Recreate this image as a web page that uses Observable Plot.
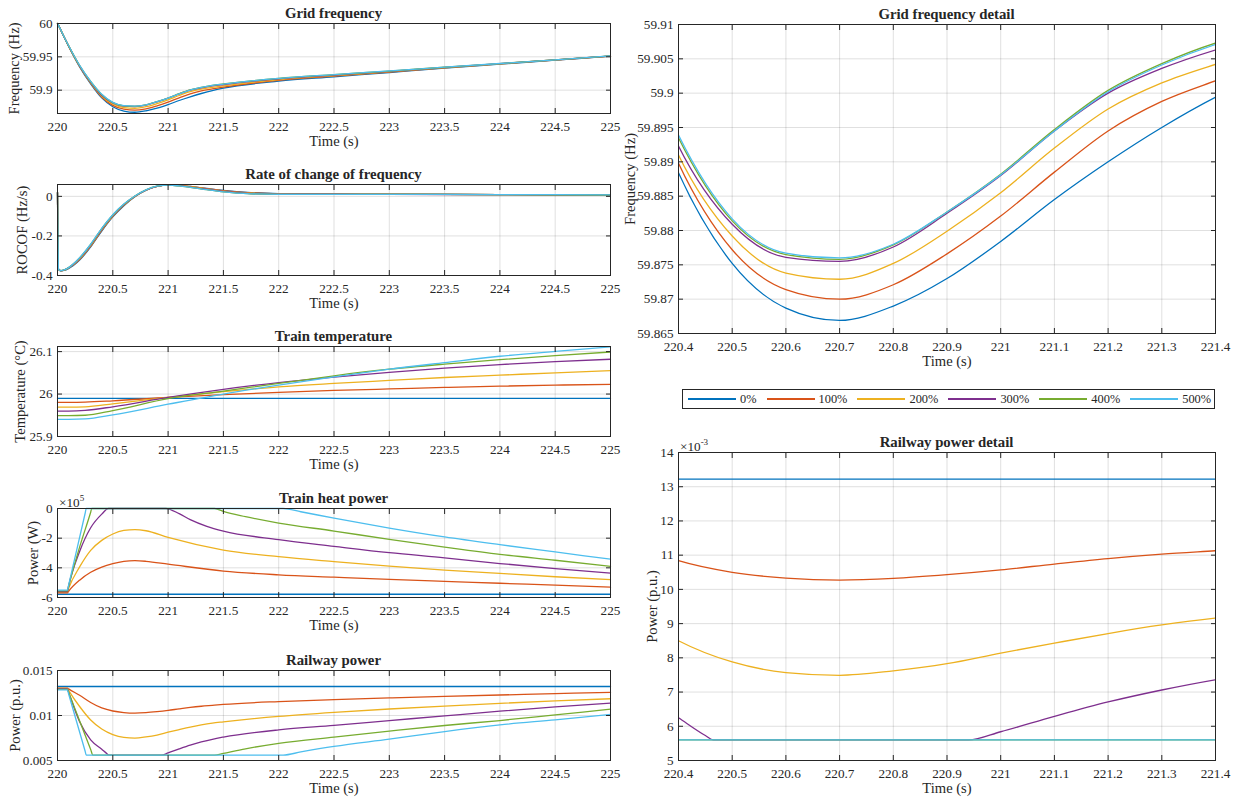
<!DOCTYPE html>
<html>
<head>
<meta charset="utf-8">
<script src="https://cdn.jsdelivr.net/npm/d3@7"></script>
<script src="https://cdn.jsdelivr.net/npm/@observablehq/plot@0.6"></script>
<style>
  html, body { margin: 0; padding: 0; background: #fff; }
  #root { position: relative; width: 1243px; height: 798px; overflow: hidden;
          font-family: "Liberation Serif", "Times New Roman", serif; color: #262626; }
  .title { position: absolute; font-weight: bold; font-size: 14.8px; line-height: 1;
           white-space: nowrap; transform: translate(-50%, -50%); }
  .expo { position: absolute; font-size: 13.2px; line-height: 1; white-space: nowrap; }
  .expo sup { font-size: 9px; vertical-align: 6px; }
  .legend { position: absolute; box-sizing: border-box; border: 1px solid #262626; background: #fff;
            display: flex; align-items: center; gap: 10px; padding-left: 5px; font-size: 12.4px; }
  .legend .item { display: flex; align-items: center; white-space: nowrap; }
  .legend .swatch { display: inline-block; width: 48px; height: 1.6px; margin-right: 4px; }
</style>
</head>
<body>
<div id="root"></div>
<script>
// ---------------- series ----------------
const seriesLabels = ["0%", "100%", "200%", "300%", "400%", "500%"];
const seriesColors = ["#0072BD", "#D95319", "#EDB120", "#7E2F8E", "#77AC30", "#4DBEEE"];

// ---------------- grid frequency (Hz) ----------------
const freqTime = [220, 220.02, 220.05, 220.1, 220.2, 220.3, 220.4, 220.5, 220.6, 220.7, 220.8, 220.9, 221.0, 221.1, 221.2, 221.3, 221.4, 221.5, 222, 222.5, 223, 223.5, 224, 224.5, 225];
const freq0 = [60.0, 59.9935, 59.983, 59.966, 59.935, 59.9095, 59.8884, 59.8752, 59.8687, 59.8669, 59.8690, 59.8730, 59.8784, 59.8845, 59.8900, 59.8950, 59.8994, 59.9030, 59.9135, 59.9200, 59.9265, 59.9330, 59.9390, 59.9450, 59.9510];
const freq100 = [60.0, 59.9935, 59.983, 59.9662, 59.9355, 59.9105, 59.8898, 59.8772, 59.8714, 59.8700, 59.8721, 59.8766, 59.8821, 59.8885, 59.8945, 59.8988, 59.9018, 59.9045, 59.9148, 59.9210, 59.9272, 59.9335, 59.9393, 59.9452, 59.9511];
const freq200 = [60.0, 59.9935, 59.9831, 59.9664, 59.936, 59.9113, 59.8910, 59.8792, 59.8738, 59.8729, 59.8752, 59.8799, 59.8855, 59.8920, 59.8977, 59.9015, 59.9042, 59.9065, 59.9160, 59.9220, 59.9278, 59.9339, 59.9396, 59.9453, 59.9512];
const freq300 = [60.0, 59.9935, 59.9831, 59.9666, 59.9365, 59.9122, 59.8923, 59.8809, 59.8761, 59.8755, 59.8776, 59.8825, 59.8880, 59.8945, 59.9000, 59.9036, 59.9063, 59.9084, 59.9170, 59.9227, 59.9283, 59.9342, 59.9398, 59.9454, 59.9512];
const freq400 = [60.0, 59.9935, 59.9832, 59.9668, 59.937, 59.913, 59.8935, 59.8814, 59.8765, 59.8758, 59.8779, 59.8827, 59.8882, 59.8947, 59.9004, 59.9043, 59.9073, 59.9093, 59.9177, 59.9233, 59.9287, 59.9344, 59.9399, 59.9455, 59.9513];
const freq500 = [60.0, 59.9935, 59.9832, 59.9669, 59.9372, 59.9133, 59.8939, 59.8817, 59.8767, 59.8760, 59.8780, 59.8827, 59.8881, 59.8945, 59.9002, 59.9041, 59.9071, 59.9092, 59.9177, 59.9234, 59.9289, 59.9345, 59.9400, 59.9455, 59.9513];

// ---------------- ROCOF (Hz/s) ----------------
const rocofTime = [220, 220.01, 220.03, 220.06, 220.1, 220.2, 220.3, 220.4, 220.5, 220.6, 220.7, 220.8, 220.9, 221.0, 221.1, 221.2, 221.35, 221.5, 221.75, 222, 222.5, 223, 224, 225];
const rocof0 = [0.02, -0.37, -0.376, -0.374, -0.365, -0.322, -0.255, -0.175, -0.104, -0.047, -0.002, 0.031, 0.05, 0.057, 0.056, 0.05, 0.04, 0.03, 0.019, 0.014, 0.012, 0.011, 0.009, 0.007];
const rocof100 = [0.02, -0.37, -0.376, -0.373, -0.363, -0.319, -0.252, -0.172, -0.101, -0.045, -0.001, 0.031, 0.05, 0.057, 0.056, 0.05, 0.039, 0.029, 0.018, 0.013, 0.012, 0.011, 0.009, 0.007];
const rocof200 = [0.02, -0.37, -0.376, -0.373, -0.362, -0.316, -0.248, -0.168, -0.098, -0.043, 0.0, 0.031, 0.05, 0.057, 0.055, 0.049, 0.038, 0.027, 0.016, 0.012, 0.011, 0.011, 0.009, 0.007];
const rocof300 = [0.02, -0.37, -0.376, -0.372, -0.361, -0.313, -0.245, -0.165, -0.096, -0.041, 0.001, 0.032, 0.051, 0.057, 0.054, 0.047, 0.036, 0.025, 0.014, 0.011, 0.011, 0.01, 0.009, 0.007];
const rocof400 = [0.02, -0.37, -0.376, -0.372, -0.36, -0.311, -0.243, -0.163, -0.094, -0.04, 0.002, 0.033, 0.052, 0.057, 0.053, 0.046, 0.034, 0.023, 0.013, 0.01, 0.01, 0.01, 0.009, 0.007];
const rocof500 = [0.02, -0.37, -0.376, -0.372, -0.36, -0.31, -0.242, -0.162, -0.093, -0.039, 0.002, 0.033, 0.052, 0.057, 0.053, 0.046, 0.034, 0.023, 0.013, 0.01, 0.01, 0.01, 0.009, 0.008];

// ---------------- train temperature (°C) ----------------
const tempTime = [220, 220.1, 220.25, 220.5, 221, 221.5, 222, 222.5, 223, 223.5, 224, 224.5, 225];
const temp0 = [25.99, 25.99, 25.99, 25.99, 25.99, 25.99, 25.99, 25.99, 25.99, 25.99, 25.99, 25.99, 25.99];
const temp100 = [25.9805, 25.9805, 25.981, 25.984, 25.992, 25.9985, 26.004, 26.0085, 26.012, 26.0155, 26.0185, 26.021, 26.023];
const temp200 = [25.969, 25.969, 25.970, 25.977, 25.992, 26.0055, 26.017, 26.025, 26.032, 26.039, 26.0445, 26.050, 26.055];
const temp300 = [25.960, 25.960, 25.9615, 25.970, 25.992, 26.011, 26.027, 26.040, 26.051, 26.061, 26.0695, 26.0765, 26.082];
const temp400 = [25.949, 25.949, 25.950, 25.961, 25.989, 26.007, 26.025, 26.043, 26.0585, 26.0705, 26.081, 26.0905, 26.099];
const temp500 = [25.9405, 25.9405, 25.9415, 25.951, 25.976, 26.0, 26.021, 26.0405, 26.0585, 26.074, 26.089, 26.1005, 26.111];

// ---------------- train heat power (W) ----------------
const heatTime0 = [220, 225];
const heat0 = [-5.78e5, -5.78e5];
const heatTime100 = [220, 220.09, 220.1, 220.2, 220.3, 220.4, 220.5, 220.6, 220.7, 220.8, 221, 221.5, 222, 222.5, 223, 223.5, 224, 224.5, 225];
const heat100 = [-5.68e5, -5.68e5, -5.58e5, -4.83e5, -4.3e5, -3.95e5, -3.72e5, -3.57e5, -3.52e5, -3.56e5, -3.75e5, -4.22e5, -4.47e5, -4.63e5, -4.78e5, -4.91e5, -5.04e5, -5.17e5, -5.3e5];
const heatTime200 = [220, 220.09, 220.1, 220.2, 220.3, 220.4, 220.5, 220.6, 220.7, 220.8, 221, 221.5, 222, 222.5, 223, 223.5, 224, 224.5, 225];
const heat200 = [-5.62e5, -5.62e5, -5.4e5, -3.94e5, -2.82e5, -2.15e5, -1.72e5, -1.48e5, -1.42e5, -1.5e5, -1.95e5, -2.8e5, -3.25e5, -3.58e5, -3.88e5, -4.15e5, -4.38e5, -4.6e5, -4.8e5];
const heatTime300 = [220, 220.09, 220.1, 220.2, 220.3, 220.4, 220.46, 220.98, 221.1, 221.2, 221.35, 221.5, 222, 222.5, 223, 223.5, 224, 224.5, 225];
const heat300 = [-5.6e5, -5.6e5, -5.25e5, -2.9e5, -1.3e5, -0.38e5, 0, 0, -0.35e5, -0.75e5, -1.2e5, -1.52e5, -2.1e5, -2.55e5, -2.98e5, -3.33e5, -3.71e5, -4.05e5, -4.35e5];
const heatTime400 = [220, 220.09, 220.1, 220.2, 220.3, 220.31, 221.42, 221.5, 221.7, 222, 222.5, 223, 223.5, 224, 224.5, 225];
const heat400 = [-5.55e5, -5.55e5, -5.25e5, -2.6e5, -0.25e5, 0, 0, -0.2e5, -0.55e5, -0.98e5, -1.52e5, -2.08e5, -2.6e5, -3.09e5, -3.49e5, -3.9e5];
const heatTime500 = [220, 220.09, 220.1, 220.25, 220.26, 222.04, 222.2, 222.5, 223, 223.5, 224, 224.5, 225];
const heat500 = [-5.5e5, -5.5e5, -5.18e5, -0.32e5, 0, 0, -0.22e5, -0.65e5, -1.32e5, -1.92e5, -2.44e5, -2.93e5, -3.42e5];

// ---------------- railway power (p.u.) ----------------
const railTime0 = [220, 225];
const rail0 = [0.01322, 0.01322];
const railTime100 = [220, 220.09, 220.1, 220.2, 220.3, 220.4, 220.5, 220.6, 220.7, 220.8, 220.9, 221.0, 221.1, 221.2, 221.3, 221.4, 221.5, 222, 222.5, 223, 223.5, 224, 224.5, 225];
const rail100 = [0.01305, 0.01305, 0.01296, 0.01225, 0.01145, 0.01084, 0.0105, 0.01033, 0.01027, 0.01032, 0.01043, 0.01057, 0.01074, 0.0109, 0.01103, 0.01113, 0.01123, 0.01155, 0.01177, 0.01196, 0.01213, 0.01228, 0.01243, 0.01257];
const railTime200 = [220, 220.09, 220.1, 220.2, 220.3, 220.4, 220.5, 220.6, 220.7, 220.8, 220.9, 221.0, 221.1, 221.2, 221.3, 221.4, 221.5, 222, 222.5, 223, 223.5, 224, 224.5, 225];
const rail200 = [0.013, 0.013, 0.0128, 0.0110, 0.0095, 0.0085, 0.00788, 0.00757, 0.00749, 0.00762, 0.00783, 0.00814, 0.00843, 0.00871, 0.00896, 0.00916, 0.0093, 0.0099, 0.01035, 0.01072, 0.01105, 0.01135, 0.01162, 0.01186];
const railTime300 = [220, 220.09, 220.1, 220.2, 220.3, 220.4, 220.45, 220.465, 220.94, 221.0, 221.1, 221.2, 221.3, 221.4, 221.5, 222, 222.5, 223, 223.5, 224, 224.5, 225];
const rail300 = [0.01295, 0.01295, 0.0126, 0.0093, 0.0073, 0.00625, 0.00573, 0.0056, 0.0056, 0.00584, 0.00629, 0.00671, 0.00706, 0.00736, 0.0076, 0.0084, 0.0089, 0.00943, 0.00996, 0.01048, 0.01095, 0.01137];
const railTime400 = [220, 220.09, 220.1, 220.3, 220.32, 221.42, 221.5, 221.7, 222, 222.5, 223, 223.5, 224, 224.5, 225];
const rail400 = [0.0129, 0.0129, 0.01258, 0.00623, 0.0056, 0.0056, 0.0058, 0.0063, 0.0069, 0.0076, 0.00826, 0.00889, 0.00944, 0.01007, 0.0107];
const railTime500 = [220, 220.09, 220.1, 220.25, 220.26, 222.04, 222.2, 222.5, 223, 223.5, 224, 224.5, 225];
const rail500 = [0.01285, 0.01285, 0.01242, 0.00603, 0.0056, 0.0056, 0.00595, 0.00656, 0.00737, 0.00822, 0.00896, 0.00952, 0.01011];

// ---------------- ticks ----------------
const timeTicks = [220, 220.5, 221, 221.5, 222, 222.5, 223, 223.5, 224, 224.5, 225];
const detailTimeTicks = [220.4, 220.5, 220.6, 220.7, 220.8, 220.9, 221, 221.1, 221.2, 221.3, 221.4];
const freqTicks = [59.9, 59.95, 60];
const rocofTicks = [-0.4, -0.2, 0];
const tempTicks = [25.9, 26, 26.1];
const heatTicks = [-6e5, -4e5, -2e5, 0];
const railTicks = [0.005, 0.01, 0.015];
const freqDetailTicks = [59.865, 59.87, 59.875, 59.88, 59.885, 59.89, 59.895, 59.9, 59.905, 59.91];
const railDetailTicks = [0.005, 0.006, 0.007, 0.008, 0.009, 0.010, 0.011, 0.012, 0.013, 0.014];

// ---------------- helpers ----------------
const shared = (time, list) => list.flatMap((vals, i) => vals.map((v, j) => ({t: time[j], v, s: seriesLabels[i]})));
const own = (list) => list.flatMap(([time, vals], i) => vals.map((v, j) => ({t: time[j], v, s: seriesLabels[i]})));

const freqRows = shared(freqTime, [freq0, freq100, freq200, freq300, freq400, freq500]);
const rocofRows = shared(rocofTime, [rocof0, rocof100, rocof200, rocof300, rocof400, rocof500]);
const tempRows = shared(tempTime, [temp0, temp100, temp200, temp300, temp400, temp500]);
const heatRows = own([[heatTime0, heat0], [heatTime100, heat100], [heatTime200, heat200], [heatTime300, heat300], [heatTime400, heat400], [heatTime500, heat500]]);
const railRows = own([[railTime0, rail0], [railTime100, rail100], [railTime200, rail200], [railTime300, rail300], [railTime400, rail400], [railTime500, rail500]]);

const INK = "#262626";
const FONT = "'Liberation Serif', 'Times New Roman', serif";
const TICK = 13.2, LABEL = 14.6;
const root = document.getElementById("root");
const ML = 64, MR = 12, MT = 12, MB = 44;

function place(el, left, top) {
  el.style.position = "absolute";
  el.style.left = left + "px";
  el.style.top = top + "px";
  root.appendChild(el);
}

function panel(c) {
  const svg = Plot.plot({
    width: c.x1 - c.x0 + ML + MR,
    height: c.y1 - c.y0 + MT + MB,
    marginLeft: ML, marginRight: MR, marginTop: MT, marginBottom: MB,
    style: {fontFamily: FONT, fontSize: TICK + "px", color: INK, background: "none", overflow: "visible"},
    x: {domain: c.xDomain},
    y: {domain: c.yDomain},
    color: {domain: seriesLabels, range: seriesColors},
    marks: [
      Plot.gridX(c.xTicks, {stroke: INK, strokeOpacity: 0.14}),
      Plot.gridY(c.yTicks, {stroke: INK, strokeOpacity: 0.14}),
      Plot.line(c.rows, {x: "t", y: "v", stroke: "s", z: "s", curve: "monotone-x", strokeWidth: 1.3, clip: c.clip}),
      Plot.frame({stroke: INK, strokeWidth: 1}),
      Plot.axisX(c.xTicks, {anchor: "bottom", tickSize: -5, tickPadding: c.xPad, tickFormat: d => String(d), label: null, stroke: INK, fill: INK, fontFamily: FONT, fontSize: TICK}),
      Plot.axisX(c.xTicks, {anchor: "top", tickSize: -5, tickFormat: () => "", label: null, stroke: INK}),
      Plot.axisY(c.yTicks, {anchor: "left", tickSize: -5, tickPadding: 10, tickFormat: c.yFormat, label: null, stroke: INK, fill: INK, fontFamily: FONT, fontSize: TICK}),
      Plot.axisY(c.yTicks, {anchor: "right", tickSize: -5, tickFormat: () => "", label: null, stroke: INK}),
      Plot.text(["Time (s)"], {text: d => d, frameAnchor: "bottom", lineAnchor: "middle", textAnchor: "middle", dy: c.timeDy, fontSize: LABEL, fill: INK, fontFamily: FONT}),
      Plot.text([c.yLabel], {text: d => d, frameAnchor: "left", lineAnchor: "middle", textAnchor: "middle", dx: c.yLabelX - c.x0, rotate: -90, fontSize: LABEL, fill: INK, fontFamily: FONT})
    ]
  });
  place(svg, c.x0 - ML, c.y0 - MT);
  const t = document.createElement("div");
  t.className = "title";
  t.textContent = c.title;
  place(t, (c.x0 + c.x1) / 2, c.y0 - 10);
  if (c.expo) {
    const e = document.createElement("div");
    e.className = "expo";
    e.innerHTML = "×10<sup>" + c.expo + "</sup>";
    place(e, c.x0 + 2, c.y0 - 14);
  }
}

const L = {x0: 57, x1: 610, xDomain: [220, 225], xTicks: timeTicks, clip: false, xPad: 13, timeDy: 28};
panel({...L, y0: 23, y1: 113, yDomain: [59.865, 60], yTicks: freqTicks, yFormat: d => String(d),
       rows: freqRows, yLabel: "Frequency (Hz)", yLabelX: 14, title: "Grid frequency"});
panel({...L, y0: 184, y1: 275, yDomain: [-0.4, 0.06], yTicks: rocofTicks, yFormat: d => String(d),
       rows: rocofRows, yLabel: "ROCOF (Hz/s)", yLabelX: 22, title: "Rate of change of frequency"});
panel({...L, y0: 346, y1: 436, yDomain: [25.9, 26.112], yTicks: tempTicks, yFormat: d => String(d),
       rows: tempRows, yLabel: "Temperature (°C)", yLabelX: 20, title: "Train temperature"});
panel({...L, y0: 508, y1: 597, yDomain: [-6e5, 0], yTicks: heatTicks, yFormat: d => String(Math.round(d / 1e5)),
       rows: heatRows, yLabel: "Power (W)", yLabelX: 33, title: "Train heat power", expo: "5"});
panel({...L, y0: 670, y1: 760, yDomain: [0.005, 0.015], yTicks: railTicks, yFormat: d => String(d),
       rows: railRows, yLabel: "Power (p.u.)", yLabelX: 15, title: "Railway power"});

const R = {x0: 678, x1: 1215, xDomain: [220.4, 221.4], xTicks: detailTimeTicks, clip: true, xPad: 13, timeDy: 28};
panel({...R, y0: 24, y1: 333, yDomain: [59.865, 59.91], yTicks: freqDetailTicks, yFormat: d => String(d),
       rows: freqRows, yLabel: "Frequency (Hz)", yLabelX: 630, title: "Grid frequency detail"});
panel({...R, y0: 452, y1: 760, yDomain: [0.005, 0.014], yTicks: railDetailTicks, yFormat: d => String(Math.round(d * 1000)),
       rows: railRows, yLabel: "Power (p.u.)", yLabelX: 652, title: "Railway power detail", expo: "-3"});

// ---------------- legend ----------------
const legend = document.createElement("div");
legend.className = "legend";
legend.style.width = (1215 - 682) + "px";
legend.style.height = "20px";
seriesLabels.forEach((lab, i) => {
  const item = document.createElement("div");
  item.className = "item";
  const sw = document.createElement("span");
  sw.className = "swatch";
  sw.style.backgroundColor = seriesColors[i];
  const tx = document.createElement("span");
  tx.textContent = lab;
  item.appendChild(sw);
  item.appendChild(tx);
  legend.appendChild(item);
});
place(legend, 682, 389);
</script>
</body>
</html>
